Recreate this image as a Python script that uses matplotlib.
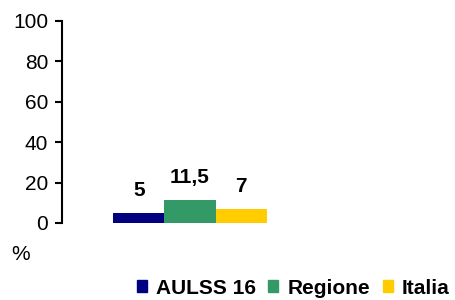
import matplotlib
matplotlib.use("Agg")
import matplotlib.pyplot as plt
from matplotlib.patches import Patch

plt.rcParams['font.family'] = ['Liberation Sans', 'DejaVu Sans']

# data
categories = ["AULSS 16", "Regione", "Italia"]
values = [5, 11.5, 7]
value_labels = ["5", "11,5", "7"]
colors = ["#000080", "#339966", "#FFCC00"]
yticks = [0, 20, 40, 60, 80, 100]

fig = plt.figure(figsize=(4.56, 3.0), dpi=100)
ax = fig.add_axes([62/456, 77/300, 256/456, 202/300])

pos = range(len(values))
ax.bar(pos, values, width=1.0, color=colors)

for x, v, lab in zip(pos, values, value_labels):
    ax.annotate(lab, (x, v), xytext=(0, 12), textcoords="offset points",
                ha="center", va="baseline", fontsize=15, fontweight="bold")

ax.set_xlim(-1.5, 3.5)
ax.set_ylim(0, 100)
ax.set_yticks(yticks)
ax.tick_params(axis="y", labelsize=15, length=5, width=1.5, pad=5)
ax.set_xticks([])
for s in ["top", "right", "bottom"]:
    ax.spines[s].set_visible(False)
ax.spines["left"].set_linewidth(1.5)

fig.text(21/456, 1 - 254/300, "%", ha="center", va="center", fontsize=15)

handles = [Patch(color=c, label=l) for c, l in zip(colors, categories)]
fig.legend(handles=handles, loc="center left", bbox_to_anchor=(137/456, 1 - 288/300),
           ncol=3, frameon=False, borderpad=0, borderaxespad=0,
           handlelength=0.48, handleheight=0.48, handletextpad=0.43,
           columnspacing=0.6, prop={"size": 15, "weight": "bold"})

fig.savefig("out.png", dpi=100)
